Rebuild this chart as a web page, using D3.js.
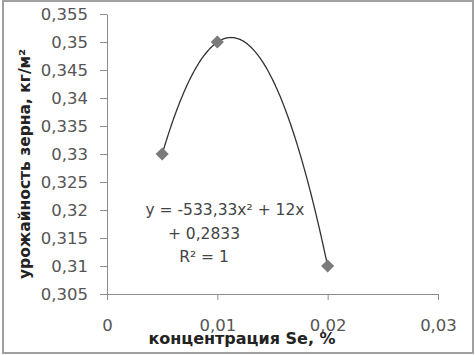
<!DOCTYPE html>
<html><head><meta charset="utf-8">
<script src="https://cdn.jsdelivr.net/npm/d3@7/dist/d3.min.js"></script>
<style>
html,body{margin:0;padding:0;background:#fff;}
svg{display:block;font-family:"DejaVu Sans",sans-serif;}
</style></head>
<body>
<svg id="chart" width="475" height="355"></svg>
<script>
// data
const concentrations = [0.005, 0.01, 0.02];
const yields = [0.33, 0.35, 0.31];
const xTicks = [0, 0.01, 0.02, 0.03];
const yTicks = [0.305, 0.31, 0.315, 0.32, 0.325, 0.33, 0.335, 0.34, 0.345, 0.35, 0.355];
const trendCoefficients = [-533.33, 12, 0.2833]; // a x^2 + b x + c (displayed trendline)
const equationLines = ["y = -533,33x\u00b2 + 12x", "+ 0,2833", "R\u00b2 = 1"];
const xTitle = "концентрация Se, %";
const yTitle = "урожайность зерна, кг/м\u00b2";

const svg = d3.select("#chart");
const W = 475, H = 355;
const mLeft = 107, mRight = 438, mTop = 14, mBottom = 294;

// border
svg.append("rect").attr("x", 3).attr("y", 1).attr("width", W - 5).attr("height", H - 3)
  .attr("fill", "#fff").attr("stroke", "#a0a0a0").attr("stroke-width", 2);

const x = d3.scaleLinear().domain([0, 0.03]).range([mLeft, mRight]);
const y = d3.scaleLinear().domain([0.305, 0.355]).range([mBottom, mTop]);
const fmt = d => String(+d.toFixed(4)).replace(".", ",");

// y axis
const yAxis = svg.append("g").attr("transform", `translate(${mLeft},0)`)
  .call(d3.axisLeft(y).tickValues(yTicks).tickFormat(fmt).tickSize(7).tickSizeOuter(0).tickPadding(12));
// x axis
const xAxis = svg.append("g").attr("transform", `translate(0,${mBottom})`)
  .call(d3.axisBottom(x).tickValues(xTicks).tickFormat(fmt).tickSize(6).tickSizeOuter(0).tickPadding(19));
[yAxis, xAxis].forEach(g => {
  g.select(".domain").attr("stroke", "#8c8c8c").attr("stroke-width", 1);
  g.selectAll(".tick line").attr("stroke", "#8c8c8c");
  g.selectAll(".tick text").attr("fill", "#555").attr("font-size", 16.5).attr("font-family", "DejaVu Sans,sans-serif");
});

// trendline
const [a, b, c] = trendCoefficients;
const xs = d3.range(0, 201).map(i => d3.min(concentrations) + (d3.max(concentrations) - d3.min(concentrations)) * i / 200);
svg.append("path")
  .attr("d", d3.line().x(d => x(d)).y(d => y(a * d * d + b * d + c))(xs))
  .attr("fill", "none").attr("stroke", "#333").attr("stroke-width", 1.3);

// markers
const sym = d3.symbol().type(d3.symbolDiamond2).size(110);
svg.selectAll(".pt").data(concentrations).enter().append("path")
  .attr("transform", (d, i) => `translate(${x(d)},${y(yields[i])})`)
  .attr("d", sym).attr("fill", "#7a7a7a");

// equation
svg.append("g").selectAll("text").data(equationLines).enter().append("text")
  .attr("x", (d, i) => i === 0 ? 225 : 204)
  .attr("y", (d, i) => 215 + i * 23.5)
  .attr("text-anchor", "middle").attr("font-size", 15.5).attr("fill", "#444")
  .text(d => d);

// axis titles
svg.append("text").attr("x", 242).attr("y", 344).attr("text-anchor", "middle")
  .attr("font-size", 16).attr("font-weight", "bold").attr("fill", "#222").text(xTitle);
svg.append("text").attr("transform", "translate(30,164) rotate(-90)").attr("text-anchor", "middle")
  .attr("font-size", 15.5).attr("font-weight", "bold").attr("fill", "#222").text(yTitle);
</script>
</body></html>
